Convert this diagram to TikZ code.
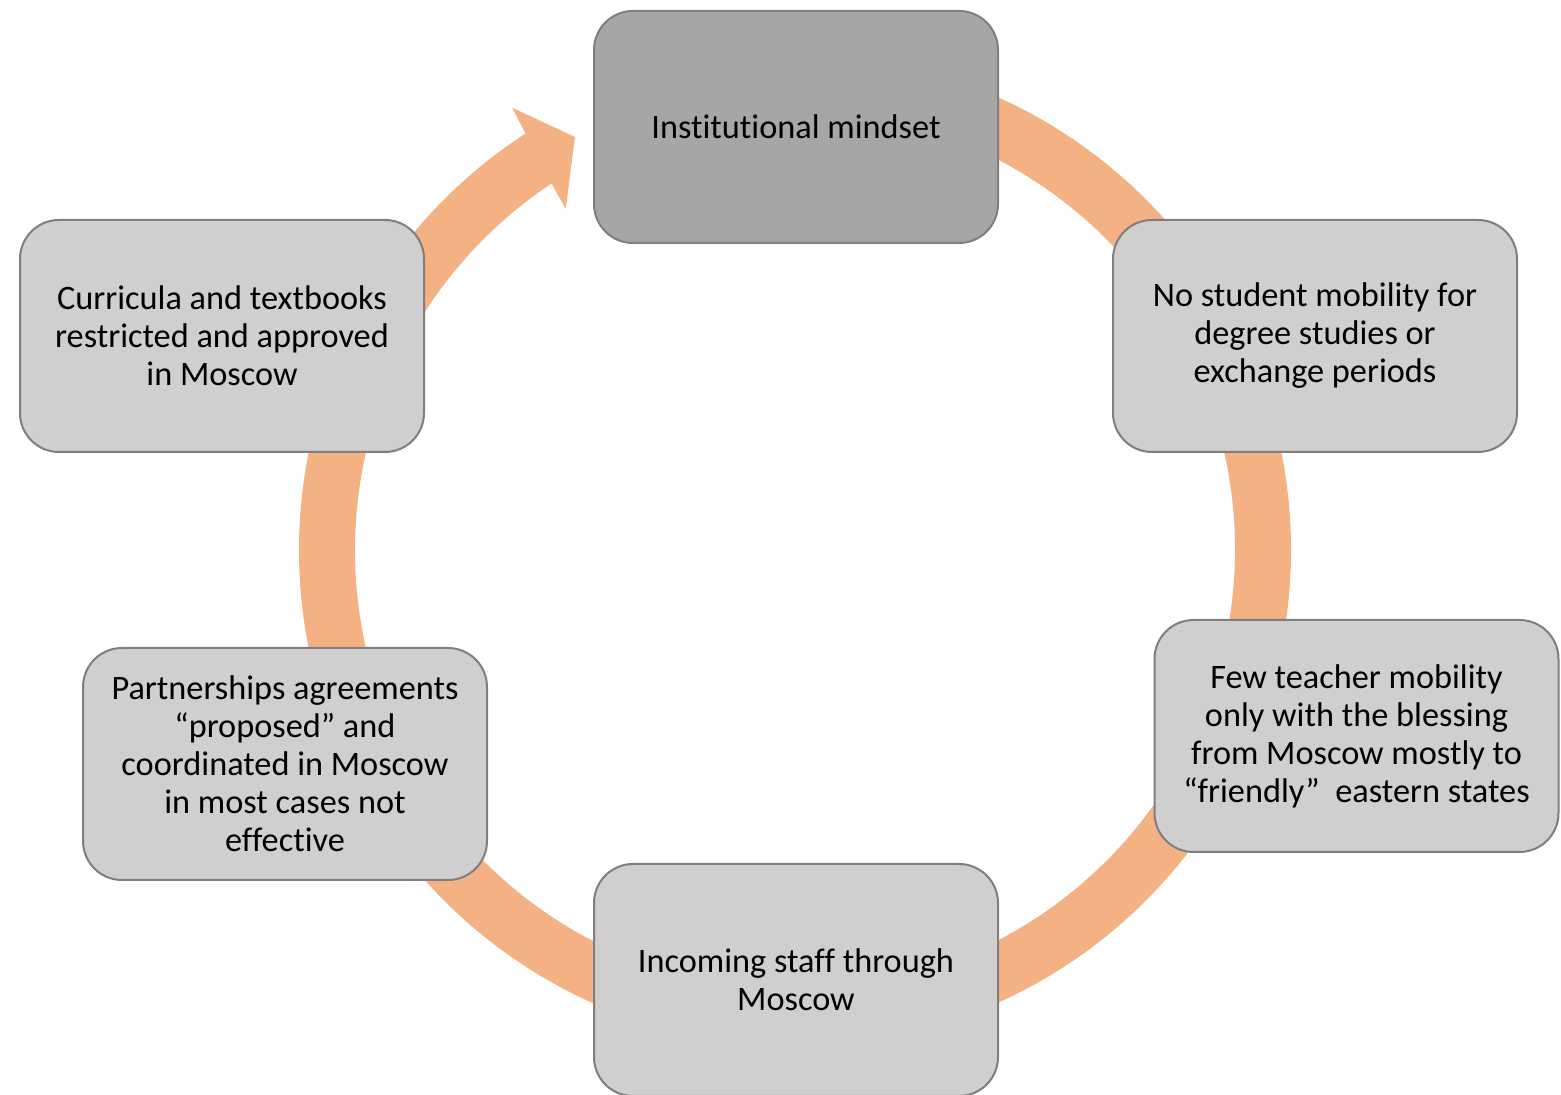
\documentclass[tikz,border=0pt]{standalone}
\usepackage{fontspec}
\setmainfont[Ligatures=CommonOff]{Carlito}
\definecolor{ringorange}{RGB}{244,177,131}
\definecolor{boxgray}{RGB}{208,206,206}
\definecolor{darkgray}{RGB}{166,166,166}
\definecolor{edgegray}{RGB}{127,127,127}
\begin{document}
\begin{tikzpicture}[x=1pt,y=1pt,
  cyclebox/.style={rectangle, rounded corners=39pt, draw=edgegray, line width=2pt,
    fill=boxgray, minimum width=404pt, minimum height=232pt, align=center,
    inner sep=0pt, font=\fontsize{34.3}{38}\selectfont, text=black},
  ring/.style={fill=ringorange}]
\useasboundingbox (0,0) rectangle (1561,1095);
\begin{scope}[shift={(795,545)}]
\fill[ring] (90:496pt) arc[start angle=90, end angle=-237.1, radius=496pt]
  -- (-237.4:525pt) -- (-241.95:468pt) -- (-236.1:411pt) -- (-236.4:440pt)
  arc[start angle=-236.4, end angle=90, radius=440pt] -- cycle;
\end{scope}
\node[cyclebox, fill=darkgray] (mind) at (796,968) {Institutional mindset};
\node[cyclebox] (student) at (1315,759) {No student mobility for\\degree studies or\\exchange periods};
\node[cyclebox] (teacher) at (1356.5,359) {Few teacher mobility\\only with the blessing\\from Moscow mostly to\\“friendly”~ eastern states};
\node[cyclebox] (staff) at (796,115) {Incoming staff through\\Moscow};
\node[cyclebox] (partner) at (285,331) {Partnerships agreements\\“proposed” and\\coordinated in Moscow\\in most cases not\\effective};
\node[cyclebox] (curr) at (222,759) {Curricula and textbooks\\restricted and approved\\in Moscow};
\end{tikzpicture}
\end{document}
